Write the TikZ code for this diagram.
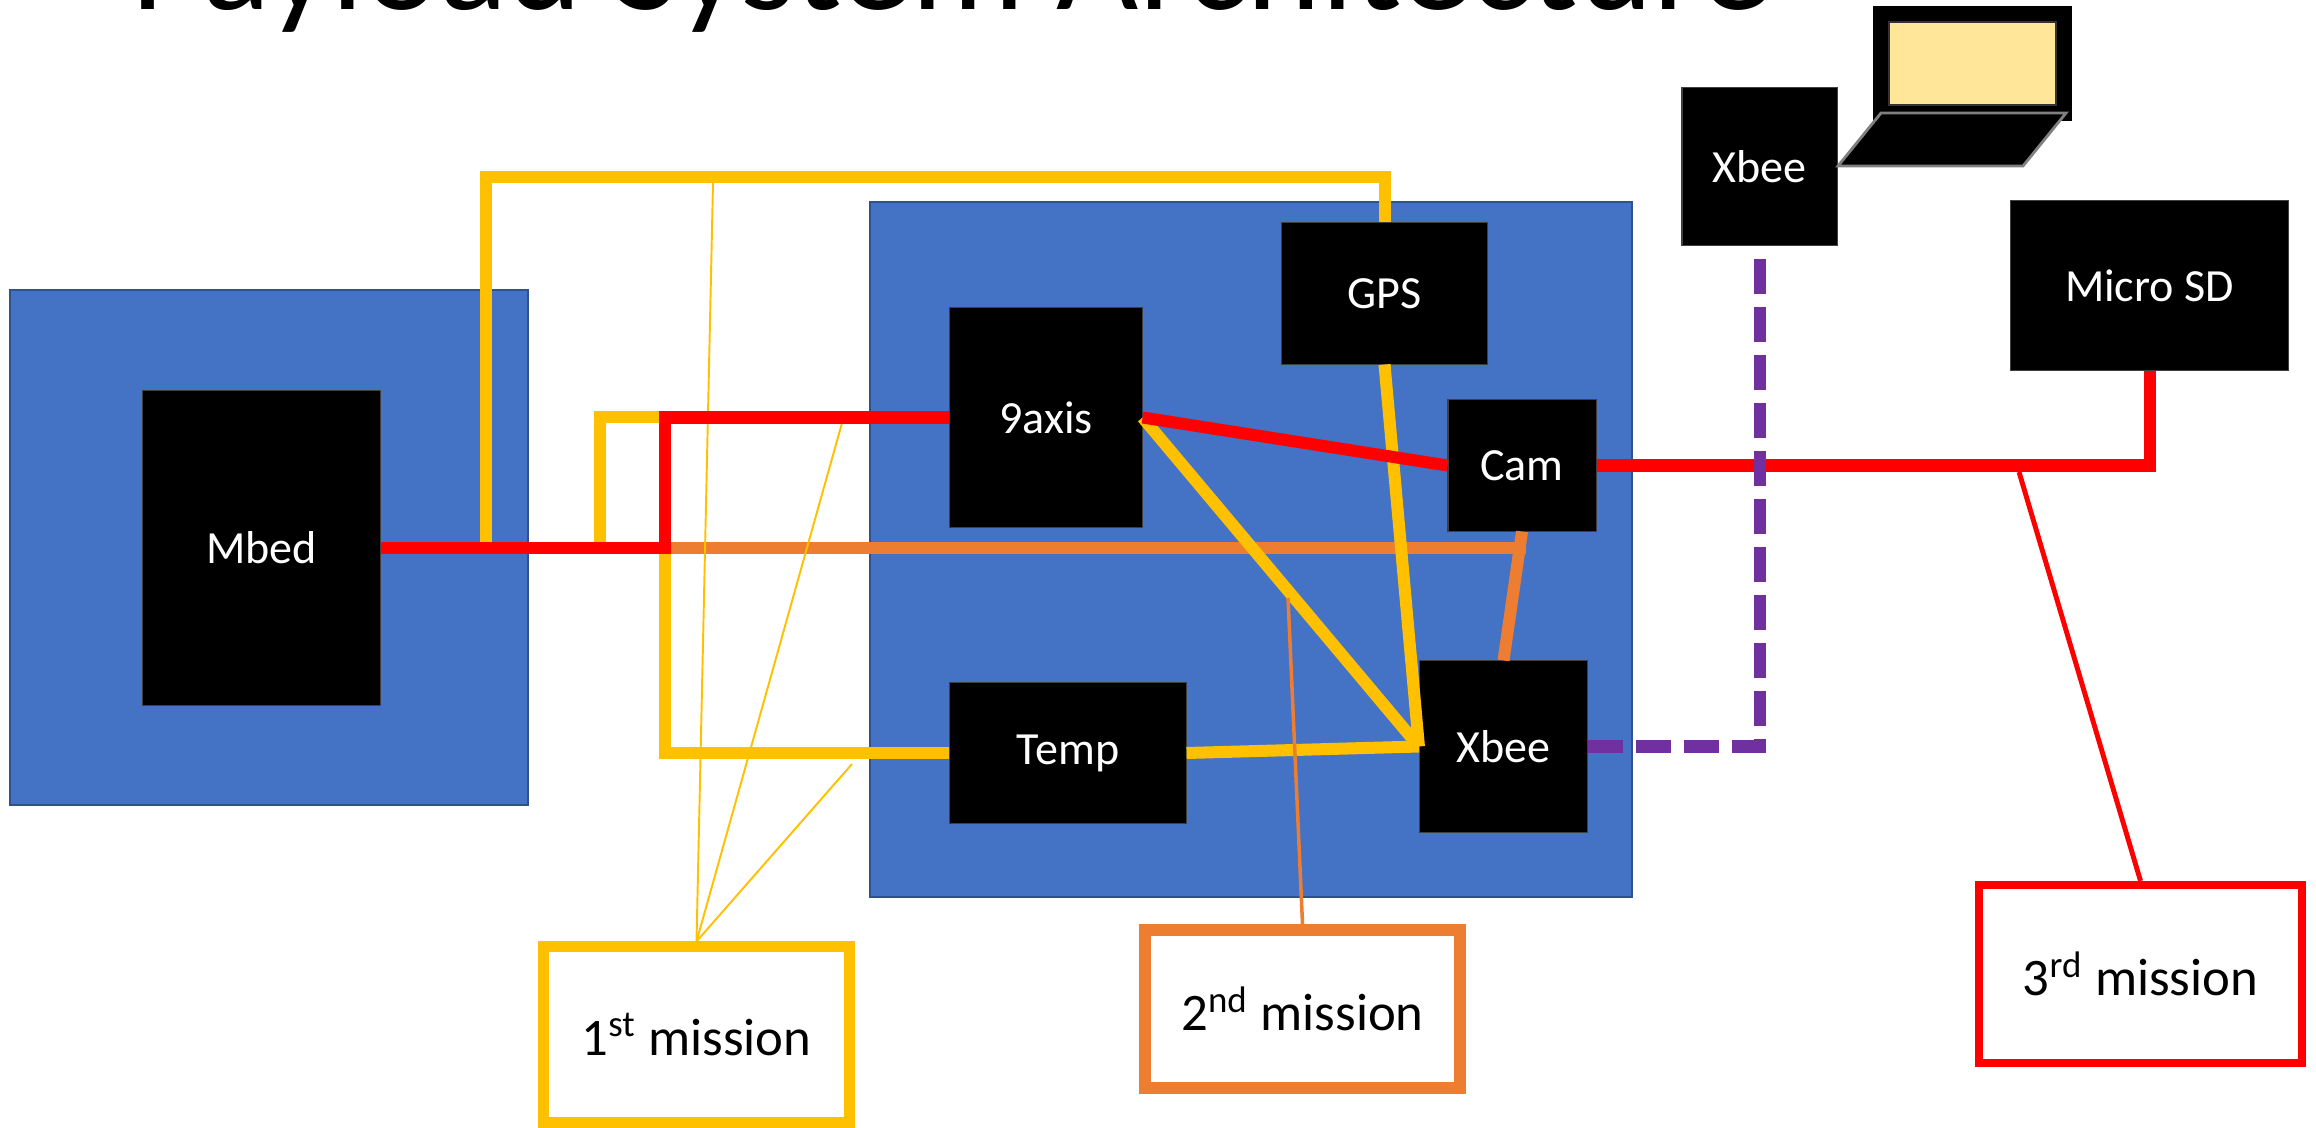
\documentclass[tikz,border=0pt]{standalone}
\usepackage{fontspec}
\setmainfont{Carlito}
\definecolor{pblue}{HTML}{4472C4}
\definecolor{pborder}{HTML}{2F528F}
\definecolor{pyellow}{HTML}{FFC000}
\definecolor{pred}{HTML}{FF0000}
\definecolor{porange}{HTML}{ED7D31}
\definecolor{ppurple}{HTML}{7030A0}
\definecolor{pscreen}{HTML}{FFE699}
\newcommand\labfont{\fontsize{13.1pt}{15pt}\selectfont}
\newcommand\misfont{\fontsize{15pt}{18pt}\selectfont}
\tikzset{
  bgbox/.style={fill=pblue, draw=pborder, line width=0.6pt, inner sep=0pt},
  blk/.style={fill=black, draw=black!75, line width=0.3pt, text=white, font=\labfont, inner sep=0pt},
  misbox/.style={fill=white, text=black, font=\misfont, inner sep=0pt},
  wire/.style={line width=0.12cm, line join=miter},
  thinwire/.style={line width=0.55pt},
}
\begin{document}
\begin{tikzpicture}[x=0.01cm, y=-0.01cm]
\useasboundingbox (0,0) rectangle (2316,1128);
\clip (0,0) rectangle (2316,1128);

% title
\node[anchor=base west, inner sep=0pt, font=\fontsize{40.4pt}{41pt}\selectfont] (title) at (131,10) {Payload System Architecture};

% background boards
\node[bgbox, minimum width=5.18cm, minimum height=5.15cm] (mbedbg) at (269,547.5) {};
\node[bgbox, minimum width=7.62cm, minimum height=6.95cm] (mainbg) at (1251,549.5) {};

% black modules
\node[blk, minimum width=2.37cm, minimum height=3.14cm] (mbed) at (261.5,548) {Mbed};
\node[blk, minimum width=2.05cm, minimum height=1.41cm] (gps) at (1384.5,293.5) {GPS};
\node[blk, minimum width=1.92cm, minimum height=2.19cm] (nine) at (1046,417.5) {9axis};
\node[blk, minimum width=1.48cm, minimum height=1.31cm] (cam) at (1522,465.5) {Cam};
\node[blk, minimum width=2.36cm, minimum height=1.40cm] (temp) at (1068,753) {Temp};
\node[blk, minimum width=1.68cm, minimum height=1.71cm] (xbee) at (1503.5,746.5) {Xbee};
\node[blk, minimum width=1.55cm, minimum height=1.57cm] (xbeeg) at (1759.5,166.5) {Xbee};
\node[blk, minimum width=2.77cm, minimum height=1.69cm] (sd) at (2149.5,285.5) {Micro SD};

% laptop
\fill[black] (1873,6) rectangle (2072,121);
\filldraw[fill=pscreen, draw=black!80, line width=0.4pt] (1889,22) rectangle (2056,105);
\filldraw[fill=black, draw=black!50, line width=0.8pt, line join=miter] (1881,113) -- (2066,113) -- (2023,166) -- (1838,166) -- cycle;

% mission boxes
\node[misbox, draw=pyellow, line width=0.11cm, minimum width=3.06cm, minimum height=1.75cm] (m1) at (696.5,1034.5) {1\textsuperscript{st} mission};
\node[misbox, draw=porange, line width=0.12cm, minimum width=3.15cm, minimum height=1.58cm] (m2) at (1302.5,1009) {2\textsuperscript{nd} mission};
\node[misbox, draw=pred, line width=0.08cm, minimum width=3.23cm, minimum height=1.78cm] (m3) at (2140.5,974) {3\textsuperscript{rd} mission};

% helper coordinates
\coordinate (oj) at (1526,548);
\coordinate (yt1) at (713,183);
\coordinate (yt2) at (842,423);
\coordinate (yt3) at (852,764);
\coordinate (rt) at (2019,472);
\coordinate (ot) at (1288,598);

% orange (2nd mission)
\draw[wire, porange] (mbed.east) -- (oj);
\draw[wire, porange] (cam.south) -- (xbee.north);

% yellow (1st mission)
\draw[wire, pyellow] (mbed.east) -| (486,177) -| (gps.north);
\draw[wire, pyellow] (mbed.east) -| (600,417) -- (665,417) |- (temp.west);
\draw[wire, pyellow] (nine.east) -- (xbee.west);
\draw[wire, pyellow] (gps.south) -- (xbee.west);
\draw[wire, pyellow] (temp.east) -- (xbee.west);
\draw[thinwire, pyellow] (yt1) -- (m1.north);
\draw[thinwire, pyellow] (yt2) -- (m1.north);
\draw[thinwire, pyellow] (yt3) -- (m1.north);

% red (3rd mission)
\draw[wire, pred] (mbed.east) -- (665,548) |- (nine.west);
\draw[wire, pred] (nine.east) -- (cam.west);
\draw[wire, pred] (cam.east) -| (sd.south);
\draw[line width=1.4pt, pred] (rt) -- (m3.north);

% thin orange
\draw[line width=1pt, porange] (ot) -- (m2.north);

% purple wireless link
\draw[wire, ppurple, dash pattern=on 0.35cm off 0.13cm] (xbee.east) -| (xbeeg.south);
\end{tikzpicture}
\end{document}
